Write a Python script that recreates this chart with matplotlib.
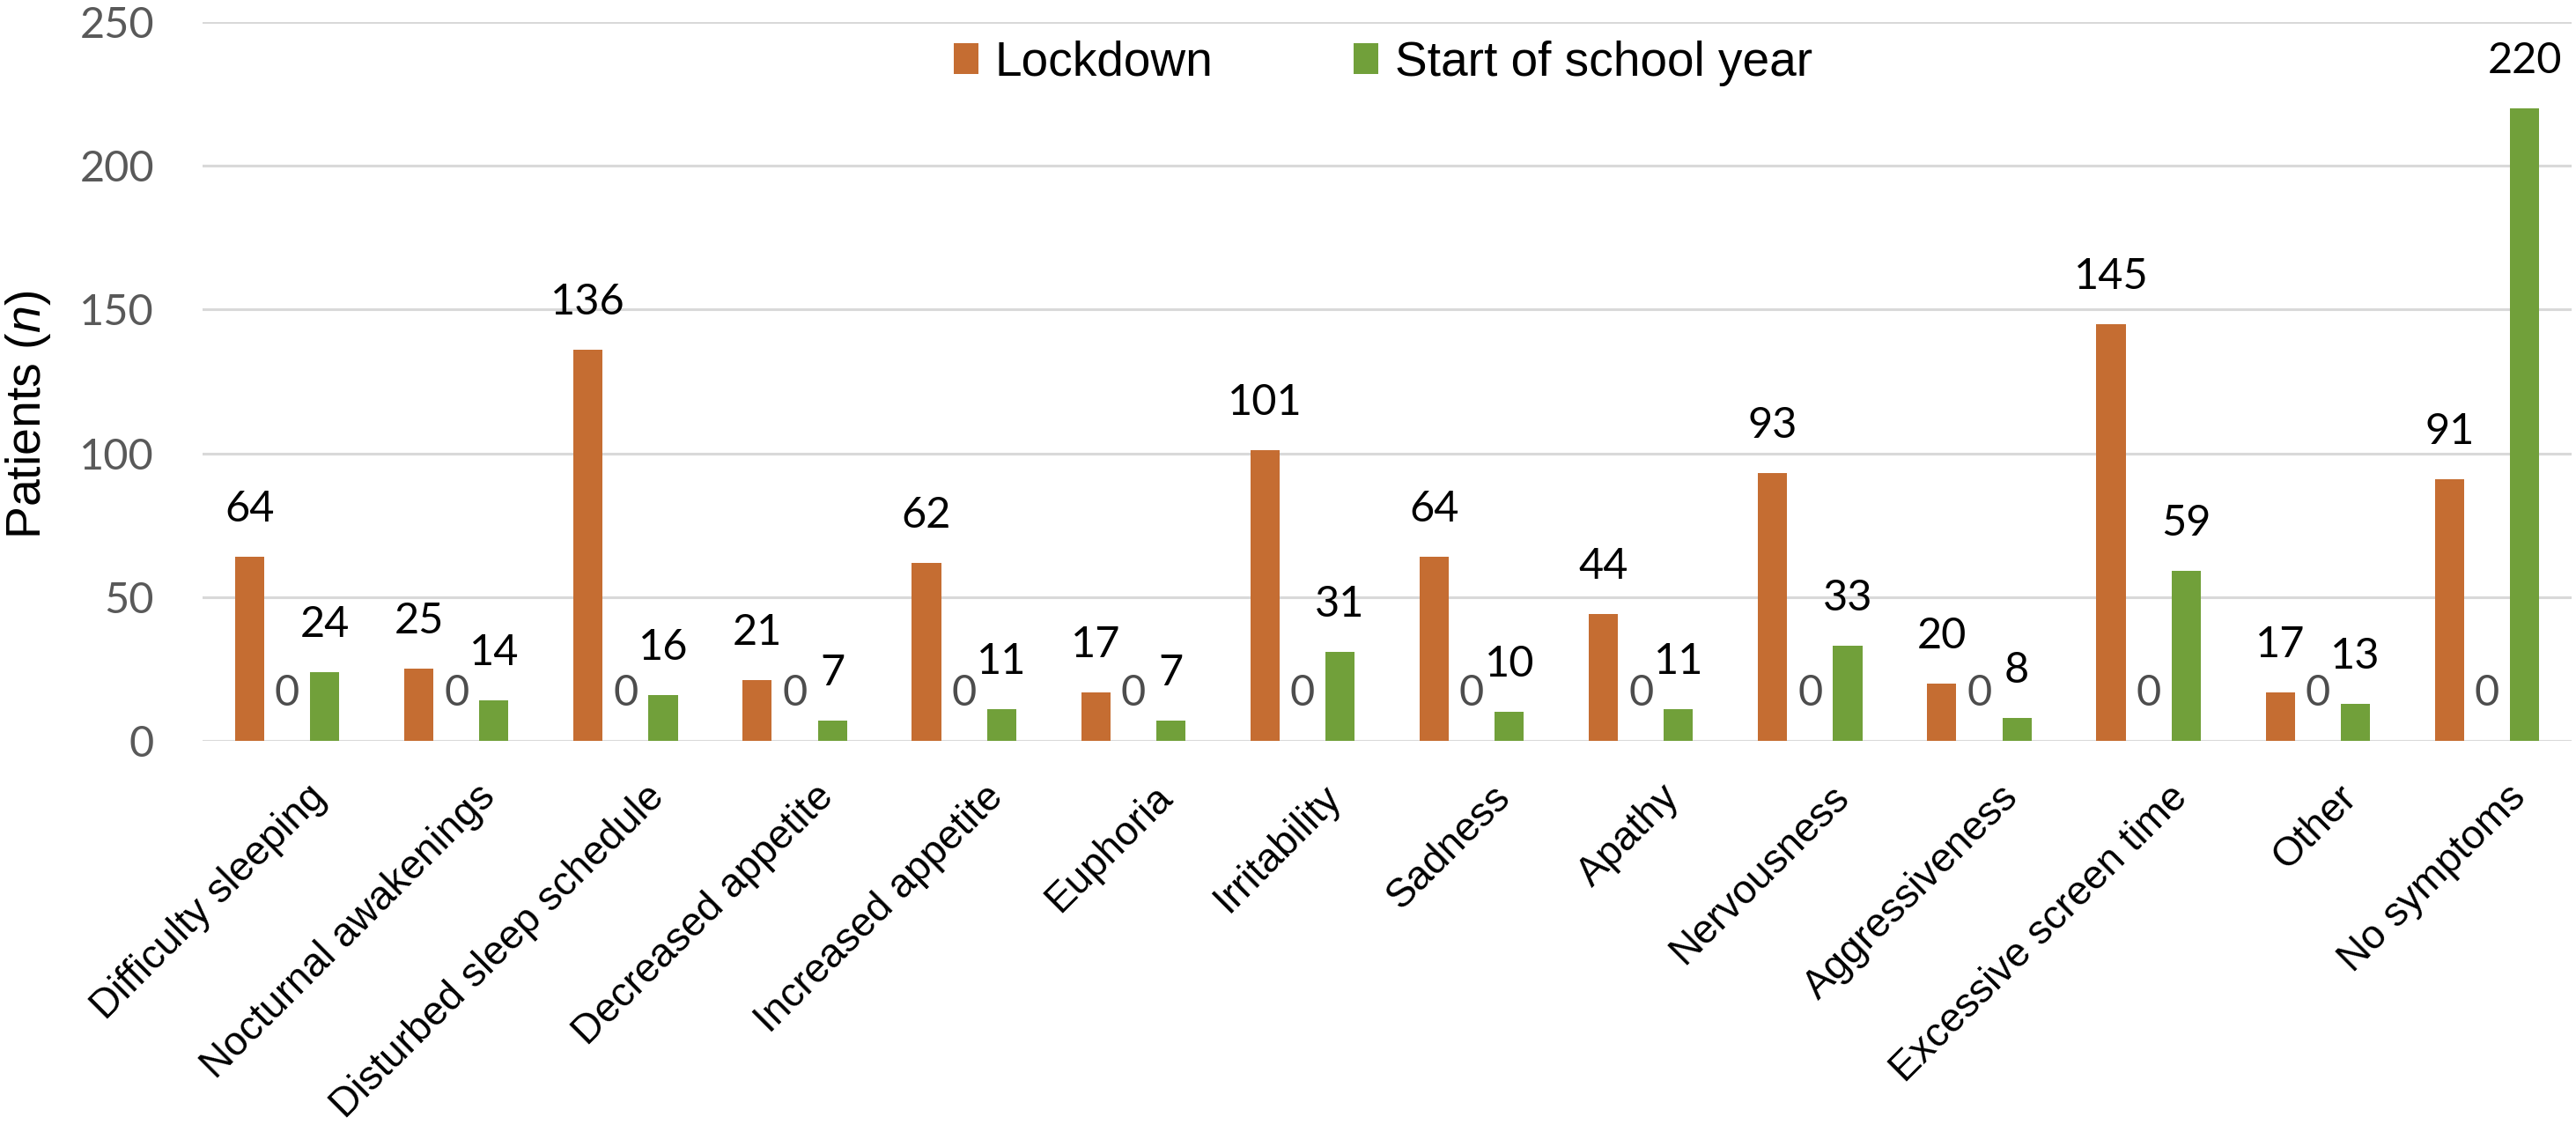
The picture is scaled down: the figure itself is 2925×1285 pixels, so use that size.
import matplotlib
matplotlib.use("Agg")
import matplotlib.pyplot as plt
from matplotlib.transforms import ScaledTranslation
import numpy as np

categories = ["Difficulty sleeping", "Nocturnal awakenings", "Disturbed sleep schedule",
              "Decreased appetite", "Increased appetite", "Euphoria", "Irritability",
              "Sadness", "Apathy", "Nervousness", "Aggressiveness",
              "Excessive screen time", "Other", "No symptoms"]
lockdown = [64, 25, 136, 21, 62, 17, 101, 64, 44, 93, 20, 145, 17, 91]
hidden_series = [0, 0, 0, 0, 0, 0, 0, 0, 0, 0, 0, 0, 0, 0]
school = [24, 14, 16, 7, 11, 7, 31, 10, 11, 33, 8, 59, 13, 220]
series_names = ["Lockdown", "Start of school year"]
yticks = [0, 50, 100, 150, 200, 250]

plt.rcParams['mathtext.fontset'] = 'custom'
plt.rcParams['mathtext.rm'] = 'Liberation Sans'
plt.rcParams['mathtext.it'] = 'Liberation Sans:italic'

W, H, DPI = 2925, 1285, 100
fig = plt.figure(figsize=(W / DPI, H / DPI), dpi=DPI)
ax = fig.add_axes([230 / W, 1 - 841 / H, (2920 - 230) / W, (841 - 25) / H])

ORANGE = '#C56D32'
GREEN = '#71A03A'
GRID = '#D9D9D9'

x = np.arange(len(categories))
off = 0.222
bw = 0.172
b1 = ax.bar(x - off, lockdown, bw, color=ORANGE, zorder=3, label=series_names[0])
b0 = ax.bar(x, hidden_series, bw, color='none', zorder=3)
b2 = ax.bar(x + off, school, bw, color=GREEN, zorder=3, label=series_names[1])

ax.set_xlim(-0.5, len(categories) - 0.5)
ax.set_ylim(0, 250)
for s in ax.spines.values():
    s.set_visible(False)
ax.set_yticks(yticks)
ax.yaxis.grid(True, color=GRID, linewidth=2.2, zorder=0)
ax.set_axisbelow(True)
ax.tick_params(axis='y', length=0, pad=39.6, labelsize=35, labelcolor='#595959')
for lab in ax.get_yticklabels():
    lab.set_fontfamily('Lato')

ax.set_xticks(x)
ax.set_xticklabels(categories, rotation=45, ha='right', va='baseline',
                   rotation_mode='anchor', fontsize=33, family='Liberation Sans', color='black')
ax.tick_params(axis='x', length=0, pad=0)
offset = ScaledTranslation(46 / DPI, -66 / DPI, fig.dpi_scale_trans)
for lab in ax.get_xticklabels():
    lab.set_transform(lab.get_transform() + offset)

gap_pt = 40 * 72 / DPI
for bars, vals, col in [(b1, lockdown, 'black'), (b0, hidden_series, '#4D4D4D'), (b2, school, 'black')]:
    for rect, v in zip(bars, vals):
        ax.annotate(str(v), xy=(rect.get_x() + rect.get_width() / 2, v),
                    xytext=(0, gap_pt), textcoords='offset points',
                    ha='center', va='baseline', fontsize=35, family='Lato',
                    color=col, annotation_clip=False, zorder=4)

fig.text(46 / W, 1 - 471 / H, r'Patients ($\mathit{n}$)', rotation=90, ha='center', va='baseline',
         rotation_mode='anchor', fontsize=40, family='Liberation Sans', color='black')

leg = fig.legend(handles=[b1, b2], labels=series_names, ncol=2, loc='center left',
                 bbox_to_anchor=(1083 / W, 1 - 72 / H), bbox_transform=fig.transFigure,
                 frameon=False, borderpad=0, borderaxespad=0,
                 handlelength=0.5, handleheight=0.6, handletextpad=0.35,
                 columnspacing=2.9, prop={'family': 'Liberation Sans', 'size': 39.6})

fig.savefig('out.png', dpi=DPI, facecolor='white')
